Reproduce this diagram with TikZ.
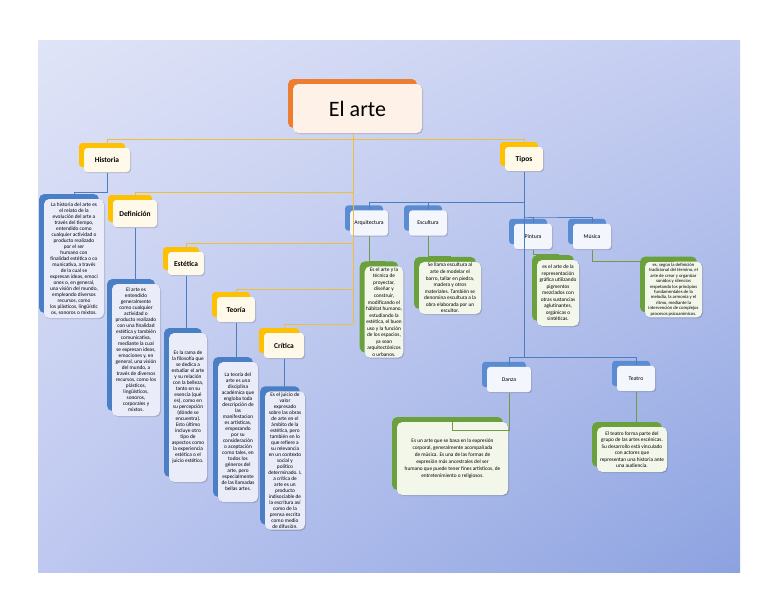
\documentclass[tikz,border=0pt]{standalone}
\usepackage{fontspec}
\setmainfont{Carlito}
\usetikzlibrary{positioning,shadings}

\definecolor{bgTL}{RGB}{224,228,247}
\definecolor{bgTR}{RGB}{196,205,241}
\definecolor{bgBL}{RGB}{190,200,240}
\definecolor{bgBR}{RGB}{140,162,224}
\definecolor{titleBack}{RGB}{237,125,49}
\definecolor{titleFront}{RGB}{253,241,232}
\definecolor{catBack}{RGB}{255,192,0}
\definecolor{catFront}{RGB}{255,249,233}
\definecolor{typeBack}{RGB}{91,139,208}
\definecolor{typeFront}{RGB}{243,246,252}
\definecolor{descBack}{RGB}{74,127,198}
\definecolor{descFront}{RGB}{234,237,249}
\definecolor{greenBack}{RGB}{106,161,60}
\definecolor{greenFront}{RGB}{242,247,234}
\definecolor{lineGold}{RGB}{240,188,60}
\definecolor{lineBlue}{RGB}{74,126,192}
\definecolor{lineGreen}{RGB}{110,156,69}

\tikzset{every picture/.style={line width=0.75pt}}
\tikzset{
  backed/.style={preaction={fill=#1,transform canvas={xshift=-3.75pt,yshift=3.75pt}},
    preaction={fill=black,opacity=0.15,transform canvas={xshift=0.8pt,yshift=-0.8pt}}},
  titlebox/.style={backed=titleBack,fill=titleFront,rounded corners=4pt,inner sep=0pt,
    minimum width=96.75pt,minimum height=36.75pt,font=\fontsize{16.5}{20}\selectfont},
  catbox/.style={backed=catBack,fill=catFront,rounded corners=2.5pt,inner sep=0pt,
    minimum height=18pt,font=\bfseries\fontsize{5.6}{6}\selectfont},
  typebox/.style={backed=typeBack,fill=typeFront,rounded corners=2.5pt,inner sep=0pt,
    minimum height=19pt,minimum width=28.5pt,font=\fontsize{4.3}{5}\selectfont},
  bluetext/.style={backed=descBack,fill=descFront,rounded corners=4pt,inner sep=1pt,
    align=center,font=\fontsize{4}{4.5}\selectfont},
  greentext/.style={backed=greenBack,fill=greenFront,rounded corners=4pt,inner sep=1pt,
    align=center,font=\fontsize{4}{4.9}\selectfont},
  goldline/.style={draw=lineGold},
  blueline/.style={draw=lineBlue},
  greenline/.style={draw=lineGreen},
}

\begin{document}
\begin{tikzpicture}[x=0.75pt,y=0.75pt,yscale=-1,xscale=1]
	\useasboundingbox (0,0) rectangle (768,614);

	%Shape: Background
	\shade [upper left=bgTL,upper right=bgTR,lower left=bgBL,lower right=bgBR] (38,40) rectangle (740,572);

	% Title
	\node [titlebox] (title) at (357.5,108.5) {El arte};

	% Categories
	\node [catbox,minimum width=34.5pt] (historia) at (107,160) {Historia};
	\node [catbox,minimum width=28.5pt] (tipos) at (524,159) {Tipos};
	\node [catbox,minimum width=33pt,minimum height=20.25pt] (defin) at (135,213.5) {Definición};
	\node [catbox,minimum width=27pt,minimum height=17.25pt] (estetica) at (186,263.5) {Estética};
	\node [catbox,minimum width=28.5pt,minimum height=18.75pt] (teoria) at (236,309.5) {Teoría};
	\node [catbox,minimum width=30pt,minimum height=18.75pt] (critica) at (284,345.5) {Crítica};

	% Types
	\node [typebox] (arqui) at (369,223) {Arquitectura};
	\node [typebox] (escul) at (428,223) {Escultura};
	\node [typebox] (pint) at (533,236.5) {Pintura};
	\node [typebox] (musica) at (592,236.5) {Música};
	\node [typebox,minimum width=33pt] (danza) at (509,379.5) {Danza};
	\node [typebox] (teatro) at (636,378.5) {Teatro};

	% Text Nodes (left branch)
	\node [bluetext,minimum width=45pt,minimum height=89.25pt] (historiaTxt) at (74,258.5) {La historia del arte es\\el relato de la\\evolución del arte a\\través del tiempo,\\entendido como\\cualquier actividad o\\producto realizado\\por el ser\\humano con\\finalidad estética o co\\municativa, a través\\de la cual se\\expresan ideas, emoci\\ones o, en general,\\una visión del mundo,\\empleando diversos\\recursos, como\\los plásticos, lingüístic\\os, sonoros o mixtos.};
	\node [bluetext,minimum width=36pt,minimum height=99pt] (definTxt) at (136,350) {El arte es\\entendido\\generalmente\\como cualquier\\actividad o\\producto realizado\\con una finalidad\\estética y también\\comunicativa,\\mediante la cual\\se expresan ideas,\\emociones y, en\\general, una visión\\del mundo, a\\través de diversos\\recursos, como los\\plásticos,\\lingüísticos,\\sonoros,\\corporales y\\mixtos.};
	\node [bluetext,minimum width=28.5pt,minimum height=111.75pt] (esteticaTxt) at (188,407.5) {Es la rama de\\la filosofía que\\se dedica a\\estudiar el arte\\y su relación\\con la belleza,\\tanto en su\\esencia (qué\\es), como en\\su percepción\\(dónde se\\encuentra).\\Esto último\\incluye otro\\tipo de\\aspectos como\\la experiencia\\estética o el\\juicio estético.};
	\node [bluetext,minimum width=30pt,minimum height=105pt] (teoriaTxt) at (238,432) {La teoría del\\arte es una\\disciplina\\académica que\\engloba toda\\descripción de\\las\\manifestacion\\es artísticas,\\empezando\\por su\\consideración\\o aceptación\\como tales, en\\todos los\\géneros del\\arte, pero\\especialmente\\de las llamadas\\bellas artes.};
	\node [bluetext,minimum width=30pt,minimum height=92.25pt] (criticaTxt) at (285,460.5) {Es el juicio de\\valor\\expresado\\sobre las obras\\de arte en el\\ámbito de la\\estética, pero\\también en lo\\que refiere a\\su relevancia\\en un contexto\\social y\\político\\determinado. L\\a crítica de\\arte es un\\producto\\indisociable de\\la escritura así\\como de la\\prensa escrita\\como medio\\de difusión.};

	% Text Nodes (types)
	\node [greentext,minimum width=28.5pt,minimum height=67.5pt] (arquiTxt) at (384,312) {Es el arte y la\\técnica de\\proyectar,\\diseñar y\\construir,\\modificando el\\hábitat humano,\\estudiando la\\estética, el buen\\uso y la función\\de los espacios,\\ya sean\\arquitectónicos\\o urbanos.};
	\node [greentext,minimum width=46.5pt,minimum height=37.5pt] (escuTxt) at (450,288) {Se llama escultura al\\arte de modelar el\\barro, tallar en piedra,\\madera y otros\\materiales. También se\\denomina escultura a la\\obra elaborada por un\\escultor.};
	\node [greentext,minimum width=31.5pt,minimum height=49.5pt] (pintTxt) at (558,293) {es el arte de la\\representación\\gráfica utilizando\\pigmentos\\mezclados con\\otras sustancias\\aglutinantes,\\orgánicas o\\sintéticas.};
	\node [greentext,minimum width=42.75pt,minimum height=36.75pt,font=\fontsize{3.5}{4.1}\selectfont] (musicaTxt) at (673.5,289.5) {es, según la definición\\tradicional del término, el\\arte de crear y organizar\\sonidos y silencios\\respetando los principios\\fundamentales de la\\melodía, la armonía y el\\ritmo, mediante la\\intervención de complejos\\procesos psicoanímicos.};
	\node [greentext,minimum width=83.25pt,minimum height=54.75pt,font=\fontsize{4}{5.2}\selectfont] (danzaTxt) at (452.5,458.5) {Es un arte que se basa en la expresión\\corporal, generalmente acompañada\\de música. Es una de las formas de\\expresión más ancestrales del ser\\humano que puede tener fines artísticos, de\\entretenimiento o religiosos.};
	\node [greentext,minimum width=52.5pt,minimum height=33.75pt] (teatroTxt) at (632,449.5) {El teatro forma parte del\\grupo de las artes escénicas.\\Su desarrollo está vinculado\\con actores que\\representan una historia ante\\una audiencia.};

	% Gold connectors
	\coordinate (j1) at (353,192);
	\coordinate (j2) at (353,243);
	\coordinate (j3) at (353,289);
	\coordinate (j4) at (353,324);
	\draw [goldline] (historia.north) -- ++(0,-8) -| (tipos.north);
	\draw [goldline] (title.south -| j1) -- (j4);
	\draw [goldline] (defin.north) |- (j1);
	\draw [goldline] (estetica.north) |- (j2);
	\draw [goldline] (teoria.north) |- (j3);
	\draw [goldline] (critica.north) |- (j4);

	% Blue connectors
	\coordinate (tj) at (524,202);
	\coordinate (tm) at (524,217);
	\coordinate (tk) at (524,357);
	\draw [blueline] (tipos.south) -- (tk);
	\draw [blueline] (arqui.north) |- (tj);
	\draw [blueline] (escul.north) -- (escul.north |- tj);
	\draw [blueline] (pint.north) |- (tm) -| (musica.north);
	\draw [blueline] (danza.north) |- (teatro.north |- tk) -- (teatro.north);
	\draw [blueline] (historia.south) -- ++(0,20) -| (historiaTxt.north);
	\draw [blueline] (defin.south) -- (defin.south |- definTxt.north);
	\draw [blueline] (estetica.south) -- (estetica.south |- esteticaTxt.north);
	\draw [blueline] (teoria.south) -- (teoria.south |- teoriaTxt.north);
	\draw [blueline] (critica.south) -- (critica.south |- criticaTxt.north);

	% Green connectors
	\draw [greenline] (arqui.south) -- ++(0,25) -| (arquiTxt.north);
	\draw [greenline] (escul.south) -- ++(0,20) -| (escuTxt.north);
	\draw [greenline] (pint.south) -- ++(0,5) -| (pintTxt.north);
	\draw [greenline] (musica.south) -- ++(0,12) -| (musicaTxt.north);
	\draw [greenline] (danza.south) -- ++(0,38) -| (danzaTxt.north);
	\draw [greenline] (teatro.south) -- (teatro.south |- teatroTxt.north);

\end{tikzpicture}
\end{document}
